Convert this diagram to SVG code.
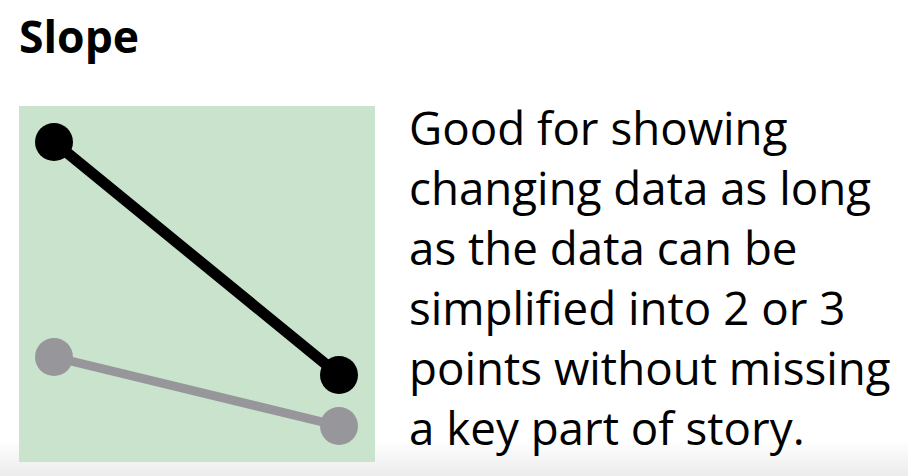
<svg xmlns="http://www.w3.org/2000/svg" width="908" height="476" viewBox="0 0 908 476">
<defs>
<linearGradient id="shade" x1="0" y1="0" x2="0" y2="1">
<stop offset="0" stop-color="#ffffff"/>
<stop offset="1" stop-color="#ececec"/>
</linearGradient>
<style>
.title{font-family:"Open Sans","Liberation Sans",sans-serif;font-weight:700;font-size:44.5px;fill:#000}
.body{font-family:"Open Sans","Liberation Sans",sans-serif;font-size:45.7px;fill:#000}
.blk{stroke:#000;stroke-width:11;stroke-linecap:round}
.gry{stroke:#97979b;stroke-width:9;stroke-linecap:round}
</style>
</defs>
<rect x="0" y="0" width="908" height="476" fill="#fff"/>
<rect x="0" y="440" width="908" height="36" fill="url(#shade)"/>
<g id="title"><text class="title" x="19" y="53">Slope</text></g>
<g id="chart">
<rect x="19" y="106" width="356" height="356" fill="#c9e3cc"/>
</g>
<g id="connectors">
<line class="blk" x1="54" y1="142" x2="339" y2="375"/>
<line class="gry" x1="54" y1="357" x2="339" y2="426"/>
</g>
<g id="points">
<circle cx="54" cy="142" r="19" fill="#000"/>
<circle cx="339" cy="375" r="19" fill="#000"/>
<circle cx="54" cy="357" r="19" fill="#97979b"/>
<circle cx="339" cy="426" r="19" fill="#97979b"/>
</g>
<g id="description">
<text class="body" x="409" y="145">Good for showing</text>
<text class="body" x="409" y="205">changing data as long</text>
<text class="body" x="409" y="265">as the data can be</text>
<text class="body" x="409" y="325">simplified into 2 or 3</text>
<text class="body" x="409" y="385">points without missing</text>
<text class="body" x="409" y="445">a key part of story.</text>
</g>
</svg>
